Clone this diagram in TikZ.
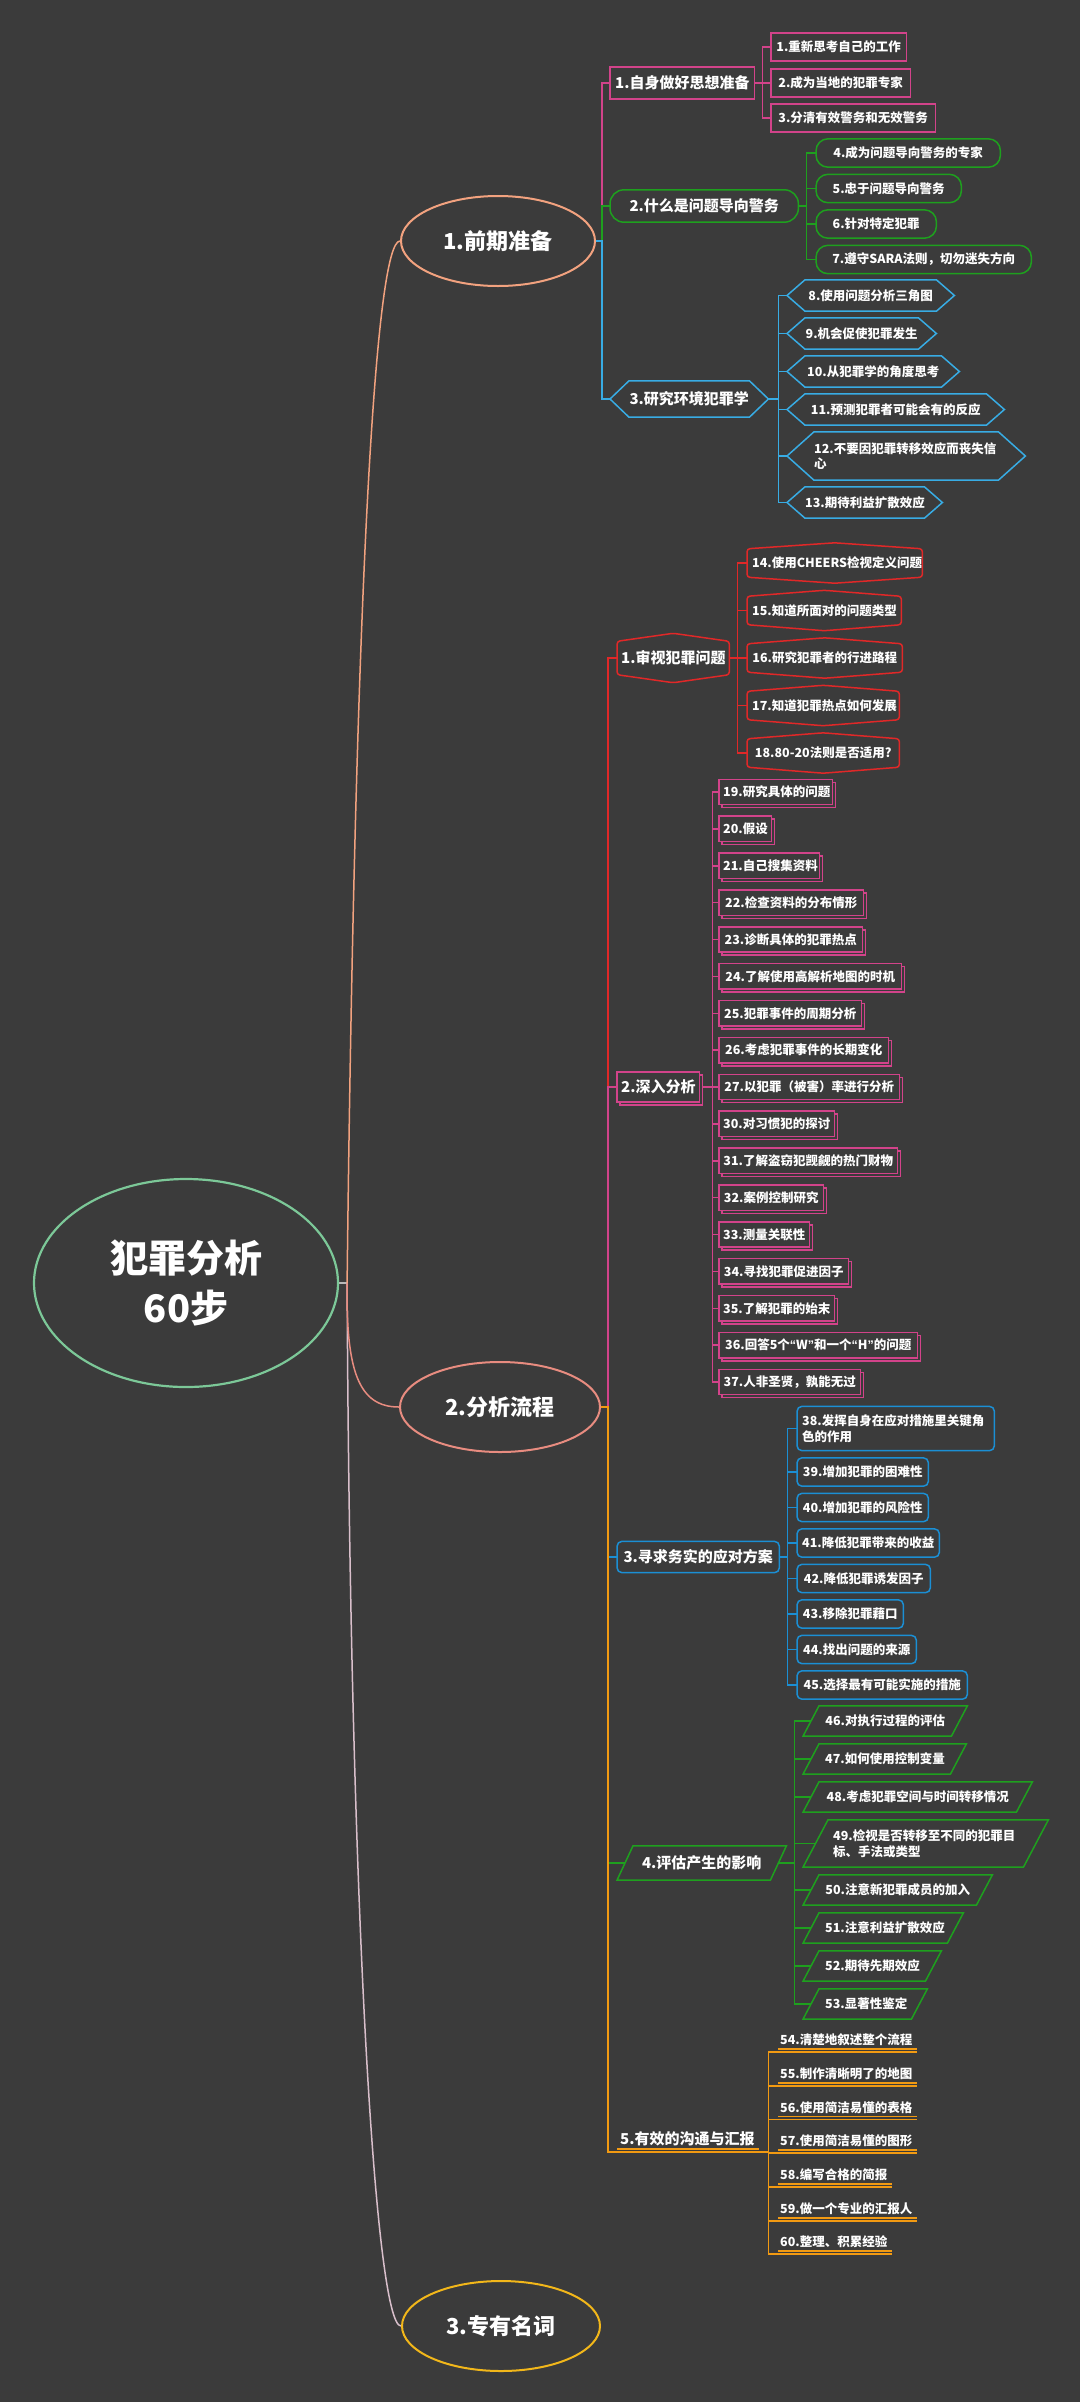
\documentclass[tikz,border=0pt]{standalone}
\usepackage{fontspec}
\setmainfont{Noto Sans CJK SC}
\newfontfamily\qf{Liberation Sans}
\usetikzlibrary{shapes.geometric}
\pgfdeclarelayer{back}
\pgfdeclarelayer{bg}
\pgfdeclarelayer{frm}
\pgfsetlayers{back,bg,frm,main}
\definecolor{bgc}{HTML}{3B3B3B}
\definecolor{rootgreen}{HTML}{7CC898}
\definecolor{peach}{HTML}{F2A27F}
\definecolor{salmon}{HTML}{E88C80}
\definecolor{curvethree}{HTML}{D9BFCB}
\definecolor{yel}{HTML}{F2B71A}
\definecolor{pinkc}{HTML}{D2438A}
\definecolor{greenc}{HTML}{1EA01E}
\definecolor{hexblue}{HTML}{38ACE4}
\definecolor{blueb}{HTML}{1B8FD4}
\definecolor{redc}{HTML}{E02828}
\definecolor{orangec}{HTML}{F29A12}
\definecolor{stubgray}{HTML}{B8B8B8}
\tikzset{
  leaftxt/.style={text=white, font={\bfseries\fontsize{12.5}{15.5}\selectfont}, align=center},
  midtxt/.style={text=white, font={\bfseries\fontsize{15}{18}\selectfont}, align=center},
  bigtxt/.style={text=white, font={\bfseries\fontsize{22}{26}\selectfont}},
  ulpos/.style={anchor=south west, inner ysep=3pt, align=left},
  con/.style={line width=1.5pt},
  frame/.style={line width=1.5pt, fill=bgc},
  ell/.style={ellipse, line width=2pt, inner sep=0pt, bigtxt},
}
% #1 style, #2 xsep, #3 name, #4 left, #5 right, #6 y, #7 height, #8 text
\newcommand\leaf[8]{%
  \pgfmathsetmacro\tw{#5-#4-2*(#2)}%
  \node[inner xsep=#2pt, inner ysep=0pt, text width=\tw pt, minimum height=#7pt, anchor=west, #1] (#3) at (#4,#6) {#8};%
}
\newcommand\FrBox[2]{\begin{pgfonlayer}{frm}\draw[frame,draw=#2] (#1.south west) rectangle (#1.north east);\end{pgfonlayer}}
\newcommand\FrRound[3]{\begin{pgfonlayer}{frm}\draw[frame,draw=#2,rounded corners=#3pt] (#1.south west) rectangle (#1.north east);\end{pgfonlayer}}
\newcommand\FrHex[3]{\begin{pgfonlayer}{frm}\draw[frame,draw=#2] (#1.west) -- ([xshift=#3pt]#1.north west) -- ([xshift=-#3pt]#1.north east) -- (#1.east) -- ([xshift=-#3pt]#1.south east) -- ([xshift=#3pt]#1.south west) -- cycle;\end{pgfonlayer}}
\newcommand\FrPeak[3]{\begin{pgfonlayer}{frm}\draw[frame,draw=#2,rounded corners=3pt] (#1.west) -- (#1.north west) -- ([yshift=#3pt]#1.north) -- (#1.north east) -- (#1.south east) -- ([yshift=-#3pt]#1.south) -- (#1.south west) -- (#1.west);\end{pgfonlayer}}
\newcommand\FrPara[3]{\begin{pgfonlayer}{frm}\draw[frame,draw=#2] (#1.south west) -- ([xshift=#3pt]#1.north west) -- (#1.north east) -- ([xshift=-#3pt]#1.south east) -- cycle;\end{pgfonlayer}}
\newcommand\FrDbl[2]{\begin{pgfonlayer}{frm}\draw[frame,draw=#2] ([shift={(3pt,-3pt)}]#1.south west) rectangle ([shift={(3pt,-3pt)}]#1.north east);\draw[frame,draw=#2] (#1.south west) rectangle (#1.north east);\end{pgfonlayer}}
\newcommand\FrUl[2]{\begin{pgfonlayer}{frm}\draw[draw=#2,line width=1.3pt] (#1.south west) -- (#1.south east);\draw[draw=#2,line width=1.3pt] ([yshift=-3pt]#1.south west) -- ([yshift=-3pt]#1.south east);\end{pgfonlayer}}
\begin{document}
\begin{tikzpicture}[x=1pt,y=-1pt]
\begin{pgfonlayer}{back}
\fill[bgc] (0,0) rectangle (1080,2402);
\end{pgfonlayer}
\useasboundingbox (0,0) rectangle (1080,2402);

% root and main branches
\node[ell, draw=rootgreen, line width=2.2pt, minimum width=304pt, minimum height=208pt, font={\bfseries\fontsize{38}{50}\selectfont}, align=center] (root) at (186,1283) {犯罪分析\\60步};
\node[ell, draw=peach, minimum width=194pt, minimum height=90pt] (e1) at (498,241) {1.前期准备};
\node[ell, draw=salmon, minimum width=200pt, minimum height=90pt] (e2) at (500,1407) {2.分析流程};
\node[ell, draw=yel, minimum width=198pt, minimum height=90pt] (e3) at (501,2326) {3.专有名词};

% branch 1 level 2
\leaf{midtxt}{5}{p11}{610}{754}{83}{32}{1.自身做好思想准备}\FrBox{p11}{pinkc}
\leaf{midtxt}{16}{p12}{610}{798}{206}{32}{2.什么是问题导向警务}\FrRound{p12}{greenc}{14}
\leaf{midtxt}{18}{p13}{610}{768}{399}{36}{3.研究环境犯罪学}\FrHex{p13}{hexblue}{19}

% branch 1 leaves
\leaf{leaftxt}{5}{a1}{771}{906}{47}{28}{1.重新思考自己的工作}\FrBox{a1}{pinkc}
\leaf{leaftxt}{5}{a2}{771}{910}{83}{28}{2.成为当地的犯罪专家}\FrBox{a2}{pinkc}
\leaf{leaftxt}{5}{a3}{771}{935}{118}{28}{3.分清有效警务和无效警务}\FrBox{a3}{pinkc}

\leaf{leaftxt}{13}{a4}{816}{1000}{153}{28}{4.成为问题导向警务的专家}\FrRound{a4}{greenc}{12}
\leaf{leaftxt}{13}{a5}{816}{961}{188.5}{28}{5.忠于问题导向警务}\FrRound{a5}{greenc}{12}
\leaf{leaftxt}{13}{a6}{816}{936}{224}{28}{6.针对特定犯罪}\FrRound{a6}{greenc}{12}
\leaf{leaftxt}{13}{a7}{816}{1031}{259.5}{28}{7.遵守SARA法则，切勿迷失方向}\FrRound{a7}{greenc}{12}

\leaf{leaftxt}{18}{a8}{787}{954}{295.5}{31}{8.使用问题分析三角图}\FrHex{a8}{hexblue}{18}
\leaf{leaftxt}{18}{a9}{787}{936}{333.5}{31}{9.机会促使犯罪发生}\FrHex{a9}{hexblue}{18}
\leaf{leaftxt}{18}{a10}{787}{959}{371.5}{31}{10.从犯罪学的角度思考}\FrHex{a10}{hexblue}{18}
\leaf{leaftxt}{18}{a11}{787}{1004}{409.5}{31}{11.预测犯罪者可能会有的反应}\FrHex{a11}{hexblue}{18}
\leaf{leaftxt,align=left}{27}{a12}{787}{1025}{456}{48}{12.不要因犯罪转移效应而丧失信\\心}\FrHex{a12}{hexblue}{27}
\leaf{leaftxt}{18}{a13}{787}{942}{502.5}{31}{13.期待利益扩散效应}\FrHex{a13}{hexblue}{18}

% branch 2 level 2
\leaf{midtxt}{4}{p21}{617}{729}{658}{33}{1.审视犯罪问题}\FrPeak{p21}{redc}{8}
\leaf{midtxt}{4}{p22}{617}{699}{1087}{30}{2.深入分析}\FrDbl{p22}{pinkc}
\leaf{midtxt}{5}{p23}{617}{779}{1557}{31}{3.寻求务实的应对方案}\FrRound{p23}{blueb}{5}
\leaf{midtxt}{20}{p24}{617}{786}{1863}{34}{4.评估产生的影响}\FrPara{p24}{greenc}{16}
\leaf{midtxt,ulpos}{3}{p25}{617}{759}{2149}{0}{5.有效的沟通与汇报}\FrUl{p25}{orangec}

% 2.1 leaves
\leaf{leaftxt}{5}{b14}{747}{922}{563}{28}{14.使用CHEERS检视定义问题}\FrPeak{b14}{redc}{6}
\leaf{leaftxt}{5}{b15}{747}{901}{610.5}{28}{15.知道所面对的问题类型}\FrPeak{b15}{redc}{6}
\leaf{leaftxt}{5}{b16}{747}{902}{658}{28}{16.研究犯罪者的行进路程}\FrPeak{b16}{redc}{6}
\leaf{leaftxt}{5}{b17}{747}{899}{705.5}{28}{17.知道犯罪热点如何发展}\FrPeak{b17}{redc}{6}
\leaf{leaftxt}{5}{b18}{747}{899}{753}{28}{18.\mbox{80-20}法则是否适用?}\FrPeak{b18}{redc}{6}

% 2.2 leaves
\leaf{leaftxt}{4}{k19}{719}{832}{792}{25}{19.研究具体的问题}\FrDbl{k19}{pinkc}
\leaf{leaftxt}{4}{k20}{719}{771}{828.9}{25}{20.假设}\FrDbl{k20}{pinkc}
\leaf{leaftxt}{4}{k21}{719}{819}{865.8}{25}{21.自己搜集资料}\FrDbl{k21}{pinkc}
\leaf{leaftxt}{4}{k22}{719}{863}{902.6}{25}{22.检查资料的分布情形}\FrDbl{k22}{pinkc}
\leaf{leaftxt}{4}{k23}{719}{862}{939.5}{25}{23.诊断具体的犯罪热点}\FrDbl{k23}{pinkc}
\leaf{leaftxt}{4}{k24}{719}{901}{976.4}{25}{24.了解使用高解析地图的时机}\FrDbl{k24}{pinkc}
\leaf{leaftxt}{4}{k25}{719}{861}{1013.3}{25}{25.犯罪事件的周期分析}\FrDbl{k25}{pinkc}
\leaf{leaftxt}{4}{k26}{719}{888}{1050.1}{25}{26.考虑犯罪事件的长期变化}\FrDbl{k26}{pinkc}
\leaf{leaftxt}{4}{k27}{719}{899}{1087}{25}{27.以犯罪（被害）率进行分析}\FrDbl{k27}{pinkc}
\leaf{leaftxt}{4}{k30}{719}{834}{1123.9}{25}{30.对习惯犯的探讨}\FrDbl{k30}{pinkc}
\leaf{leaftxt}{4}{k31}{719}{897}{1160.8}{25}{31.了解盗窃犯觊觎的热门财物}\FrDbl{k31}{pinkc}
\leaf{leaftxt}{4}{k32}{719}{823}{1197.6}{25}{32.案例控制研究}\FrDbl{k32}{pinkc}
\leaf{leaftxt}{4}{k33}{719}{809}{1234.5}{25}{33.测量关联性}\FrDbl{k33}{pinkc}
\leaf{leaftxt}{4}{k34}{719}{848}{1271.4}{25}{34.寻找犯罪促进因子}\FrDbl{k34}{pinkc}
\leaf{leaftxt}{4}{k35}{719}{834}{1308.3}{25}{35.了解犯罪的始末}\FrDbl{k35}{pinkc}
\leaf{leaftxt}{4}{k36}{719}{917}{1345.1}{25}{36.回答5个{\qf “}W{\qf ”}和一个{\qf “}H{\qf ”}的问题}\FrDbl{k36}{pinkc}
\leaf{leaftxt}{4}{k37}{719}{860}{1382}{25}{37.人非圣贤，孰能无过}\FrDbl{k37}{pinkc}

% 2.3 leaves
\leaf{leaftxt,align=left}{5}{c38}{797}{994}{1428.5}{44}{38.发挥自身在应对措施里关键角\\色的作用}\FrRound{c38}{blueb}{5}
\leaf{leaftxt}{5}{c39}{797}{928}{1472}{28}{39.增加犯罪的困难性}\FrRound{c39}{blueb}{5}
\leaf{leaftxt}{5}{c40}{797}{928}{1507.5}{28}{40.增加犯罪的风险性}\FrRound{c40}{blueb}{5}
\leaf{leaftxt}{5}{c41}{797}{939}{1543}{28}{41.降低犯罪带来的收益}\FrRound{c41}{blueb}{5}
\leaf{leaftxt}{5}{c42}{797}{930}{1578.5}{28}{42.降低犯罪诱发因子}\FrRound{c42}{blueb}{5}
\leaf{leaftxt}{5}{c43}{797}{903}{1614}{28}{43.移除犯罪藉口}\FrRound{c43}{blueb}{5}
\leaf{leaftxt}{5}{c44}{797}{916}{1649.5}{28}{44.找出问题的来源}\FrRound{c44}{blueb}{5}
\leaf{leaftxt}{5}{c45}{797}{967}{1685}{28}{45.选择最有可能实施的措施}\FrRound{c45}{blueb}{5}

% 2.4 leaves
\leaf{leaftxt}{22}{d46}{803}{967}{1721}{30}{46.对执行过程的评估}\FrPara{d46}{greenc}{16}
\leaf{leaftxt}{22}{d47}{803}{966}{1759}{30}{47.如何使用控制变量}\FrPara{d47}{greenc}{16}
\leaf{leaftxt}{22}{d48}{803}{1032}{1797}{30}{48.考虑犯罪空间与时间转移情况}\FrPara{d48}{greenc}{16}
\leaf{leaftxt,align=left}{30}{d49}{803}{1048}{1843.5}{47}{49.检视是否转移至不同的犯罪目\\标、手法或类型}\FrPara{d49}{greenc}{25}
\leaf{leaftxt}{22}{d50}{803}{992}{1890}{30}{50.注意新犯罪成员的加入}\FrPara{d50}{greenc}{16}
\leaf{leaftxt}{22}{d51}{803}{963}{1928}{30}{51.注意利益扩散效应}\FrPara{d51}{greenc}{16}
\leaf{leaftxt}{22}{d52}{803}{941}{1966}{30}{52.期待先期效应}\FrPara{d52}{greenc}{16}
\leaf{leaftxt}{22}{d53}{803}{927}{2004}{30}{53.显著性鉴定}\FrPara{d53}{greenc}{16}

% 2.5 leaves
\leaf{leaftxt,ulpos}{2}{u54}{778}{917}{2049}{0}{54.清楚地叙述整个流程}\FrUl{u54}{orangec}
\leaf{leaftxt,ulpos}{2}{u55}{778}{917}{2083}{0}{55.制作清晰明了的地图}\FrUl{u55}{orangec}
\leaf{leaftxt,ulpos}{2}{u56}{778}{917}{2116.5}{0}{56.使用简洁易懂的表格}\FrUl{u56}{orangec}
\leaf{leaftxt,ulpos}{2}{u57}{778}{917}{2150}{0}{57.使用简洁易懂的图形}\FrUl{u57}{orangec}
\leaf{leaftxt,ulpos}{2}{u58}{778}{892}{2184}{0}{58.编写合格的简报}\FrUl{u58}{orangec}
\leaf{leaftxt,ulpos}{2}{u59}{778}{917}{2218}{0}{59.做一个专业的汇报人}\FrUl{u59}{orangec}
\leaf{leaftxt,ulpos}{2}{u60}{778}{892}{2251}{0}{60.整理、积累经验}\FrUl{u60}{orangec}

% connectors
\begin{pgfonlayer}{bg}
\coordinate (rj) at ([xshift=8pt]root.east);
\draw[con,stubgray] (root.east) -- (rj);
\draw[con,peach] (rj) .. controls (355,600) and (375,241) .. (e1.west);
\draw[con,curvethree] (rj) .. controls (350,1900) and (375,2326) .. (e3.west);
\draw[con,salmon] (rj) .. controls (346,1370) and (358,1407) .. (e2.west);

\draw[con,pinkc] (e1.east) -- ++(6,0) |- (p11.west);
\draw[con,greenc] (e1.east) -- ++(6,0) |- (p12.west);
\draw[con,hexblue] (e1.east) -- ++(6,0) |- (p13.west);

\foreach \c in {a1,a2,a3} \draw[con,pinkc] (p11.east) -- ++(8,0) |- (\c.west);
\foreach \c in {a4,a5,a6,a7} \draw[con,greenc] (p12.east) -- ++(8,0) |- (\c.west);
\foreach \c in {a8,a9,a10,a11,a12,a13} \draw[con,hexblue] (p13.east) -- ++(10,0) |- (\c.west);

\draw[con,redc] (e2.east) -- ++(7,0) |- (p21.west);
\draw[con,pinkc] (e2.east) -- ++(7,0) |- (p22.west);
\draw[con,blueb] (e2.east) -- ++(7,0) |- (p23.west);
\draw[con,greenc] (e2.east) -- ++(7,0) |- ([xshift=8pt]p24.west);
\draw[con,orangec] (e2.east) -- ++(7,0) |- ([yshift=-3pt]p25.south west);

\foreach \c in {b14,b15,b16,b17,b18} \draw[con,redc] (p21.east) -- ++(8,0) |- (\c.west);
\foreach \c in {k19,k20,k21,k22,k23,k24,k25,k26,k27,k30,k31,k32,k33,k34,k35,k36,k37} \draw[con,pinkc] (p22.east) -- ++(13,0) |- (\c.west);
\foreach \c in {c38,c39,c40,c41,c42,c43,c44,c45} \draw[con,blueb] (p23.east) -- ++(8,0) |- (\c.west);
\foreach \c/\s in {d46/8,d47/8,d48/8,d49/12.5,d50/8,d51/8,d52/8,d53/8} \draw[con,greenc] ([xshift=-8pt]p24.east) -- ++(16,0) |- ([xshift=\s pt]\c.west);
\foreach \c in {u54,u55,u56,u57,u58,u59,u60} \draw[con,orangec] ([yshift=-3pt]p25.south east) -- ++(9,0) |- ([yshift=-3pt]\c.south west);
\end{pgfonlayer}
\end{tikzpicture}
\end{document}
